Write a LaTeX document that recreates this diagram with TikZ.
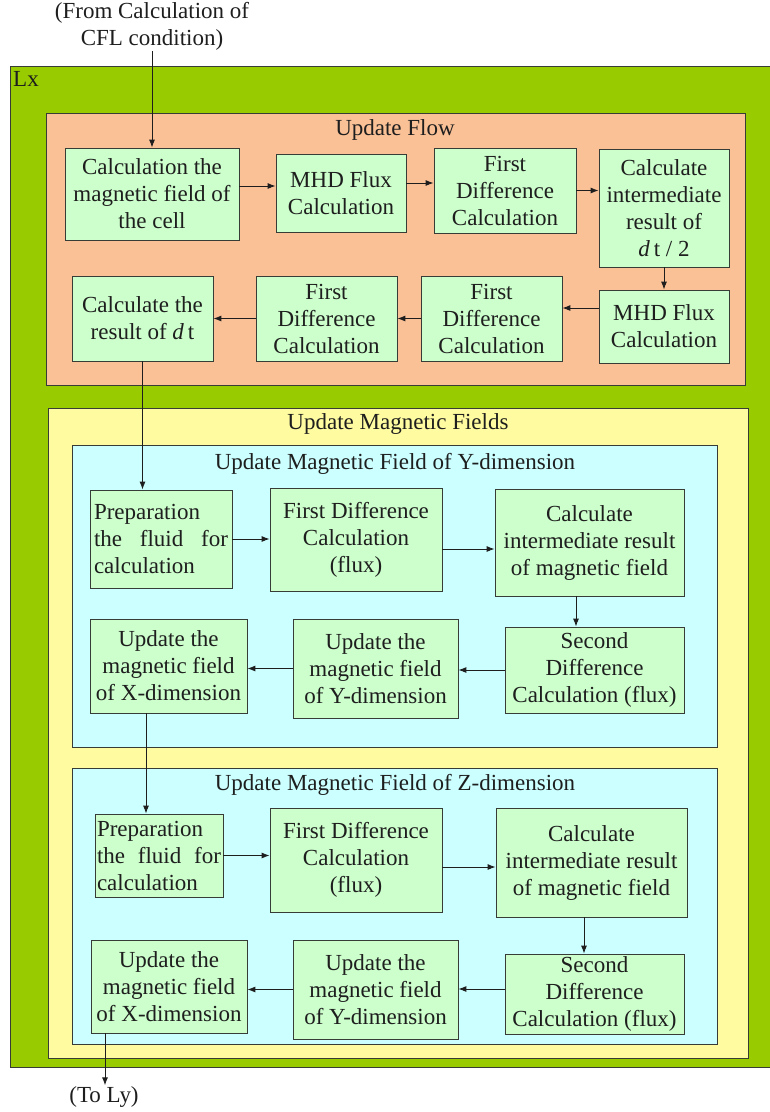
\documentclass[tikz,border=0pt]{standalone}
\usepackage{fontspec}
\setmainfont{Liberation Serif}
\usepackage{tikz}
\usetikzlibrary{arrows.meta}

\definecolor{lxgreen}{RGB}{153,204,0}
\definecolor{flowpeach}{RGB}{250,193,150}
\definecolor{fieldyellow}{RGB}{255,251,160}
\definecolor{dimcyan}{RGB}{204,255,255}
\definecolor{stepgreen}{RGB}{204,255,204}
\definecolor{edgegray}{RGB}{55,60,55}
\definecolor{inkgray}{RGB}{30,30,30}

\begin{document}
\begin{tikzpicture}[x=1pt, y=-1pt,
  font=\fontsize{23}{27}\selectfont, text=inkgray,
  frame/.style={draw=edgegray, line width=0.9pt},
  blk/.style={draw=edgegray, line width=0.8pt, fill=stepgreen, align=center, inner sep=2pt},
  title/.style={inner sep=1pt},
  arr/.style={-{Latex[length=8pt,width=6pt]}, line width=0.9pt, draw=inkgray}]

  \useasboundingbox (0,0) rectangle (770,1112);

  \filldraw[frame, fill=lxgreen](10,66) rectangle (775,1067);
  \filldraw[frame, fill=flowpeach](46,113) rectangle (745,385);
  \filldraw[frame, fill=fieldyellow](48,408) rectangle (748,1058);
  \filldraw[frame, fill=dimcyan](72,445) rectangle (717,747);
  \filldraw[frame, fill=dimcyan](72,768) rectangle (717,1044);

  \node[title] (lx) at (26,79) {Lx};
  \node[title] (flow) at (395,130) {Update Flow};
  \node[title] (fields) at (398,424) {Update Magnetic Fields};
  \node[title] (ydim) at (395,464) {Update Magnetic Field of Y-dimension};
  \node[title] (zdim) at (395,785) {Update Magnetic Field of Z-dimension};

  \node[align=center, inner sep=1pt] (from) at (152,26) {(From Calculation of\\CFL condition)};
  \node[inner sep=1pt] (toly) at (104,1097) {(To Ly)};

  % update flow
  \node[blk, minimum width=174, minimum height=92] (b1) at (152,194) {Calculation the\\magnetic field of\\the cell};
  \node[blk, minimum width=130, minimum height=78] (b2) at (341,193) {MHD Flux\\Calculation};
  \node[blk, minimum width=142, minimum height=85] (b3) at (505,190.5) {First\\Difference\\Calculation};
  \node[blk, minimum width=130, minimum height=118] (b4) at (664,208) {Calculate\\intermediate\\result of\\\textit{d}\,t / 2};
  \node[blk, minimum width=130, minimum height=73] (b5) at (664,326.5) {MHD Flux\\Calculation};
  \node[blk, minimum width=141, minimum height=85] (b6) at (491.5,318.5) {First\\Difference\\Calculation};
  \node[blk, minimum width=141, minimum height=85] (b7) at (326.5,318.5) {First\\Difference\\Calculation};
  \node[blk, minimum width=141, minimum height=85] (b8) at (142.5,318.5) {Calculate the\\result of \textit{d}\,t};

  % Y-dimension
  \node[blk, minimum width=142, minimum height=98, text width=134, align=justify] (p1) at (161,539)
    {\hyphenpenalty=10000\relax Preparation the fluid for calculation};
  \node[blk, minimum width=172, minimum height=103] (f1) at (356,539.5) {First Difference\\Calculation\\(flux)};
  \node[blk, minimum width=189, minimum height=107] (c1) at (589.5,542.5) {Calculate\\intermediate result\\of magnetic field};
  \node[blk, minimum width=179, minimum height=86] (s1) at (594.5,670) {Second\\Difference\\Calculation (flux)};
  \node[blk, minimum width=165, minimum height=99] (u1y) at (375.5,668.5) {Update the\\magnetic field\\of Y-dimension};
  \node[blk, minimum width=157, minimum height=94] (u1x) at (168.5,666) {Update the\\magnetic field\\of X-dimension};

  % Z-dimension
  \node[blk, minimum width=128, minimum height=83, text width=124, align=justify] (p2) at (159,855.5)
    {\hyphenpenalty=10000\relax Preparation the fluid for calculation};
  \node[blk, minimum width=172, minimum height=104] (f2) at (356,860) {First Difference\\Calculation\\(flux)};
  \node[blk, minimum width=191, minimum height=109] (c2) at (591.5,862.5) {Calculate\\intermediate result\\of magnetic field};
  \node[blk, minimum width=179, minimum height=80] (s2) at (594.5,994) {Second\\Difference\\Calculation (flux)};
  \node[blk, minimum width=165, minimum height=99] (u2y) at (375.5,989.5) {Update the\\magnetic field\\of Y-dimension};
  \node[blk, minimum width=156, minimum height=93] (u2x) at (169,986.5) {Update the\\magnetic field\\of X-dimension};

  \draw[arr](from.south)--(b1.north);
  \draw[arr]([yshift=8]b1.east)--([yshift=8]b1.east -| b2.west);
  \draw[arr]([yshift=10]b2.east)--([yshift=10]b2.east -| b3.west);
  \draw[arr](b3.east)--(b3.east -| b4.west);
  \draw[arr](b4.south)--(b5.north);
  \draw[arr]([yshift=18.5]b5.west)--([yshift=18.5]b5.west -| b6.east);
  \draw[arr](b6.west)--(b6.west -| b7.east);
  \draw[arr](b7.west)--(b7.west -| b8.east);
  \draw[arr](b8.south)--(b8.south |- p1.north);

  \draw[arr](p1.east)--(p1.east -| f1.west);
  \draw[arr]([yshift=-9.5]f1.east)--([yshift=-9.5]f1.east -| c1.west);
  \draw[arr]([xshift=-13.5]c1.south)--([xshift=-13.5]c1.south |- s1.north);
  \draw[arr](s1.west)--(s1.west -| u1y.east);
  \draw[arr](u1y.west)--(u1y.west -| u1x.east);
  \draw[arr]([xshift=-22.5]u1x.south)--([xshift=-22.5]u1x.south |- p2.north);

  \draw[arr](p2.east)--(p2.east -| f2.west);
  \draw[arr]([yshift=-7]f2.east)--([yshift=-7]f2.east -| c2.west);
  \draw[arr]([xshift=-7.5]c2.south)--([xshift=-7.5]c2.south |- s2.north);
  \draw[arr]([yshift=5]s2.west)--([yshift=5]s2.west -| u2y.east);
  \draw[arr](u2y.west)--(u2y.west -| u2x.east);
  \draw[arr]([xshift=-64]u2x.south)--([xshift=-64]u2x.south |- toly.north);

\end{tikzpicture}
\end{document}
